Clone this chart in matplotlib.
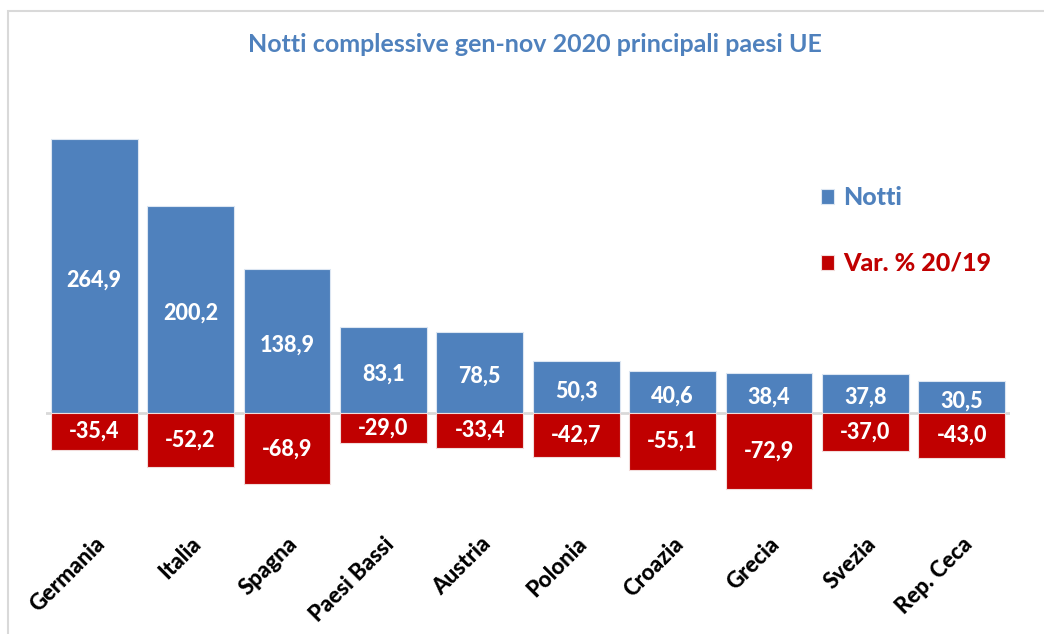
import matplotlib.pyplot as plt
from matplotlib.patches import Rectangle
import numpy as np

# data
paesi = ["Germania", "Italia", "Spagna", "Paesi Bassi", "Austria",
         "Polonia", "Croazia", "Grecia", "Svezia", "Rep. Ceca"]
notti = [264.9, 200.2, 138.9, 83.1, 78.5, 50.3, 40.6, 38.4, 37.8, 30.5]
variazione = [-35.4, -52.2, -68.9, -29.0, -33.4, -42.7, -55.1, -72.9, -37.0, -43.0]

BLUE = "#4F81BD"
RED = "#C00000"
plt.rcParams['font.family'] = ['Lato', 'DejaVu Sans']

fig = plt.figure(figsize=(10.44, 6.34), dpi=100)
# chart border (cut off at right/bottom as in the original)
fig.patches.append(Rectangle((8 / 1044, -0.1), 1.2, (634 - 11) / 634 + 0.1,
                             transform=fig.transFigure, fill=False,
                             edgecolor="#D9D9D9", linewidth=1.5))

ax = fig.add_axes([46 / 1044, 134 / 634, 964 / 1044, 400 / 634])
x = np.arange(len(paesi))
b1 = ax.bar(x, notti, width=0.9, color=BLUE, edgecolor="#DCE6F2", linewidth=0.8,
            label="Notti", zorder=2)
b2 = ax.bar(x, variazione, width=0.9, color=RED, edgecolor="#F2DCDB", linewidth=0.8,
            label="Var. % 20/19", zorder=2)

fmt = lambda v: f"{v:.1f}".replace(".", ",")
for xi, v in zip(x, notti):
    ax.text(xi, v / 2 - 4, fmt(v), ha="center", va="center", color="white",
            fontsize=15.5, fontweight=900, zorder=3)
for xi, v in zip(x, variazione):
    ax.text(xi, v / 2, fmt(v), ha="center", va="center", color="white",
            fontsize=15.5, fontweight=900, zorder=3)

ax.axhline(0, color="#D9D9D9", linewidth=2, zorder=1)
ax.set_xlim(-0.5, len(paesi) - 0.5)
ax.set_ylim(-84, 302.4)
ax.set_yticks([])
ax.set_xticks(x)
ax.set_xticklabels(paesi, rotation=45, ha="right", rotation_mode="anchor",
                   fontsize=16, fontweight=900)
ax.tick_params(axis="x", length=0, pad=24)
for s in ax.spines.values():
    s.set_visible(False)

fig.text(535 / 1044, 1 - 45 / 634, "Notti complessive gen-nov 2020 principali paesi UE",
         ha="center", va="center", color=BLUE, fontsize=18, fontweight="bold")

ax.legend(handles=[b1, b2], loc="upper left", bbox_to_anchor=(798 / 1044, 1 - 164 / 634),
          bbox_transform=fig.transFigure, frameon=False, labelcolor=[BLUE, RED],
          prop={"weight": 900, "size": 18}, handlelength=0.55, handleheight=0.55,
          handletextpad=0.35, labelspacing=1.7)

fig.savefig("out.png", dpi=100)
